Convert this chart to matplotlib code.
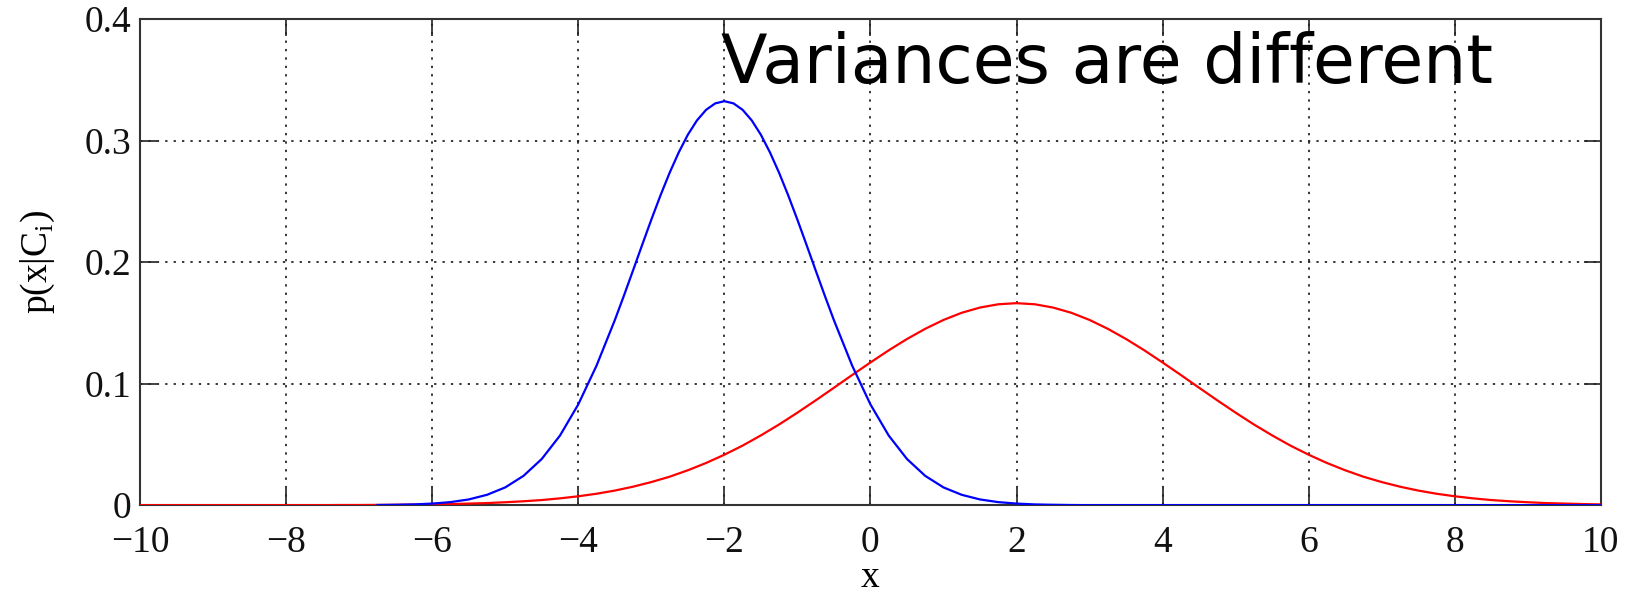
import matplotlib
matplotlib.use("Agg")
import matplotlib.pyplot as plt

x_vals = [-10.0, -9.75, -9.5, -9.25, -9.0, -8.75, -8.5, -8.25, -8.0, -7.75, -7.5, -7.25,
          -7.0, -6.75, -6.5, -6.25, -6.0, -5.75, -5.5, -5.25, -5.0, -4.75, -4.5, -4.25,
          -4.0, -3.75, -3.5, -3.25, -3.0, -2.75, -2.5, -2.25, -2.0, -1.75, -1.5, -1.25,
          -1.0, -0.75, -0.5, -0.25, 0.0, 0.25, 0.5, 0.75, 1.0, 1.25, 1.5, 1.75,
          2.0, 2.25, 2.5, 2.75, 3.0, 3.25, 3.5, 3.75, 4.0, 4.25, 4.5, 4.75,
          5.0, 5.25, 5.5, 5.75, 6.0, 6.25, 6.5, 6.75, 7.0, 7.25, 7.5, 7.75,
          8.0, 8.25, 8.5, 8.75, 9.0, 9.25, 9.5, 9.75, 10.0]

red_vals = [0, 0, 0, 0, 0, 0, 0, 0, 0, 0, 0, 0.0001,
            0.0001, 0.0002, 0.0003, 0.0005, 0.0006, 0.0009, 0.0013, 0.0017, 0.0024, 0.0032, 0.0042, 0.0056,
            0.0073, 0.0094, 0.0120, 0.0152, 0.0190, 0.0234, 0.0287, 0.0347, 0.0415, 0.0490, 0.0574, 0.0664,
            0.0761, 0.0862, 0.0966, 0.1071, 0.1174, 0.1274, 0.1367, 0.1451, 0.1524, 0.1583, 0.1626, 0.1653,
            0.1662, 0.1653, 0.1626, 0.1583, 0.1524, 0.1451, 0.1367, 0.1274, 0.1174, 0.1071, 0.0966, 0.0862,
            0.0761, 0.0664, 0.0574, 0.0490, 0.0415, 0.0347, 0.0287, 0.0234, 0.0190, 0.0152, 0.0120, 0.0094,
            0.0073, 0.0056, 0.0042, 0.0032, 0.0024, 0.0017, 0.0013, 0.0009, 0.0006]

blue_x = [-6.75, -6.5, -6.25, -6.0, -5.75, -5.5, -5.25, -5.0, -4.75, -4.5, -4.25, -4.0, -3.75, -3.5,
          -3.375, -3.25, -3.125, -3.0, -2.875, -2.75, -2.625, -2.5, -2.375, -2.25, -2.125, -2.0,
          -1.875, -1.75, -1.625, -1.5, -1.375, -1.25, -1.125, -1.0, -0.875, -0.75, -0.625,
          -0.5, -0.25, 0.0, 0.25, 0.5, 0.75, 1.0, 1.25, 1.5, 1.75, 2.0, 2.25, 2.5, 2.75,
          3.0, 3.5, 4.0, 5.0, 6.0, 7.0, 8.0, 9.0, 10.0]

blue_vals = [0.0001, 0.0003, 0.0006, 0.0013, 0.0025, 0.0047, 0.0085, 0.0146, 0.0241, 0.0380, 0.0573, 0.0829, 0.1148, 0.1522,
             0.1724, 0.1932, 0.2142, 0.2349, 0.2548, 0.2734, 0.2902, 0.3048, 0.3166, 0.3253, 0.3306, 0.3324,
             0.3306, 0.3253, 0.3166, 0.3048, 0.2902, 0.2734, 0.2548, 0.2349, 0.2142, 0.1932, 0.1724,
             0.1522, 0.1148, 0.0829, 0.0573, 0.0380, 0.0241, 0.0146, 0.0085, 0.0047, 0.0025, 0.0013, 0.0006, 0.0003, 0.0001,
             0, 0, 0, 0, 0, 0, 0, 0, 0]

x_ticks = [-10, -8, -6, -4, -2, 0, 2, 4, 6, 8, 10]
y_ticks = [0, 0.1, 0.2, 0.3, 0.4]
x_tick_labels = ["\u221210", "\u22128", "\u22126", "\u22124", "\u22122", "0", "2", "4", "6", "8", "10"]
y_tick_labels = ["0", "0.1", "0.2", "0.3", "0.4"]

serif = "Liberation Serif"

fig = plt.figure(figsize=(16.34, 5.95), dpi=100)
ax = fig.add_axes([0.0857, 0.151, 0.894, 0.817])

ax.plot(x_vals, red_vals, color="#ff0000", lw=1.6, zorder=3)
ax.plot(blue_x, blue_vals, color="#0000ff", lw=1.6, zorder=4)

ax.set_xlim(-10, 10)
ax.set_ylim(0, 0.4)
ax.set_xticks(x_ticks)
ax.set_xticklabels(x_tick_labels, fontfamily=serif, fontsize=27)
ax.set_yticks(y_ticks)
ax.set_yticklabels(y_tick_labels, fontfamily=serif, fontsize=27)
ax.tick_params(direction="in", length=12, width=1.2, top=True, right=True, colors="#222222")
ax.tick_params(axis="x", pad=15)
ax.tick_params(axis="y", pad=6)
for lab in ax.get_xticklabels() + ax.get_yticklabels():
    lab.set_color("#111111")

ax.grid(True, color="black", linestyle=(0, (1.5, 4)), linewidth=1.1)
ax.set_axisbelow(True)
for s in ax.spines.values():
    s.set_linewidth(1.5)
    s.set_color("#333333")

ax.set_xlabel("x", fontfamily=serif, fontsize=27, labelpad=0)
ax.set_ylabel(r"p(x|C$_\mathregular{i}$)", fontfamily=serif, fontsize=27, labelpad=20)

ax.text(-2.05, 0.347, "Variances are different", fontsize=49, color="black",
        ha="left", va="baseline", fontfamily="DejaVu Sans", zorder=5)

fig.savefig("out.png", dpi=100)
